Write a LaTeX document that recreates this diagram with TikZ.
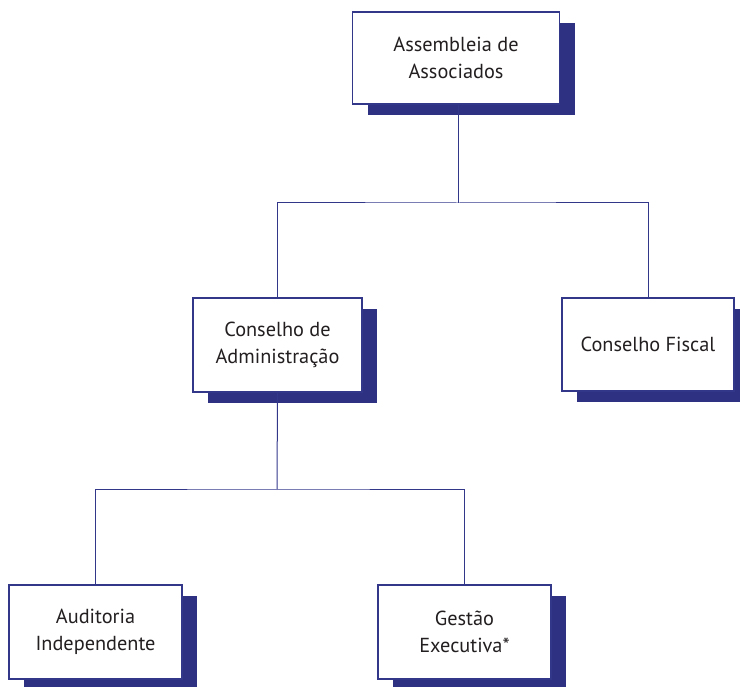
\documentclass[tikz,border=0pt]{standalone}
\usepackage{fontspec}
\setmainfont{PT Sans}
\usetikzlibrary{shadows}
\definecolor{navy}{HTML}{33378A}
\definecolor{shadowc}{HTML}{2E3182}
\definecolor{txt}{HTML}{231F20}
\tikzset{
  orgbox/.style={draw=navy, line width=1.6pt, fill=white, align=center,
    text=txt, font=\fontsize{20.3}{26.5}\selectfont, inner sep=0pt,
    drop shadow={shadow xshift=15pt, shadow yshift=-11pt, fill=shadowc, opacity=1}},
  link/.style={draw=navy, line width=1pt}
}
\begin{document}
\begin{tikzpicture}[x=1pt,y=-1pt]
\useasboundingbox (0,0) rectangle (740,687);
\node[orgbox, minimum width=207pt, minimum height=92pt] (ass) at (456,58) {Assembleia de\\Associados};
\node[orgbox, minimum width=169pt, minimum height=94pt] (ca) at (277.5,345) {Conselho de\\Administração};
\node[orgbox, minimum width=172pt, minimum height=93pt] (cf) at (648,344.5) {Conselho Fiscal};
\node[orgbox, minimum width=173pt, minimum height=94pt] (ai) at (95.5,632) {Auditoria\\Independente};
\node[orgbox, minimum width=173pt, minimum height=94pt] (ge) at (464.5,632) {Gestão\\Executiva*};
\coordinate (j1) at (458,203);
\coordinate (j2) at (277,489);
\draw[link] (ass.south -| j1) -- (j1);
\draw[link] (ca.north) |- (j1) -| (cf.north);
\draw[link] (ca.south) -- (j2);
\draw[link] (ai.north) |- (j2) -| (ge.north);
\end{tikzpicture}
\end{document}
